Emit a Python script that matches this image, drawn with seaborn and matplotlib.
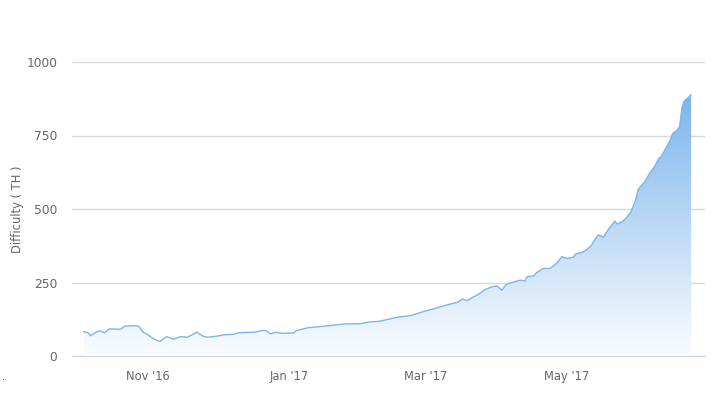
import numpy as np
import pandas as pd
import seaborn as sns
import matplotlib.pyplot as plt
import matplotlib.dates as mdates
from matplotlib.colors import LinearSegmentedColormap

# valores (dificultad en TH)
fechas = ["2016-10-04", "2016-10-06", "2016-10-07", "2016-10-09", "2016-10-11", "2016-10-13",
          "2016-10-15", "2016-10-20", "2016-10-22", "2016-10-27", "2016-10-28", "2016-10-30",
          "2016-10-31", "2016-11-03", "2016-11-06", "2016-11-09", "2016-11-12", "2016-11-15",
          "2016-11-18", "2016-11-22", "2016-11-25", "2016-11-27", "2016-12-01", "2016-12-04",
          "2016-12-08", "2016-12-10", "2016-12-17", "2016-12-21", "2016-12-22", "2016-12-24",
          "2016-12-26", "2016-12-29", "2017-01-03", "2017-01-04", "2017-01-09", "2017-01-18",
          "2017-01-25", "2017-02-01", "2017-02-05", "2017-02-09", "2017-02-13", "2017-02-17",
          "2017-02-23", "2017-02-28", "2017-03-04", "2017-03-09", "2017-03-15", "2017-03-17",
          "2017-03-19", "2017-03-21", "2017-03-24", "2017-03-27", "2017-03-30", "2017-04-01",
          "2017-04-03", "2017-04-05", "2017-04-08", "2017-04-11", "2017-04-13", "2017-04-14",
          "2017-04-17", "2017-04-18", "2017-04-21", "2017-04-24", "2017-04-27", "2017-04-29",
          "2017-05-01", "2017-05-04", "2017-05-05", "2017-05-08", "2017-05-10", "2017-05-12",
          "2017-05-14", "2017-05-15", "2017-05-17", "2017-05-19", "2017-05-22", "2017-05-23",
          "2017-05-25", "2017-05-27", "2017-05-29", "2017-05-31", "2017-06-01", "2017-06-02",
          "2017-06-04", "2017-06-06", "2017-06-08", "2017-06-10", "2017-06-11", "2017-06-13",
          "2017-06-15", "2017-06-16", "2017-06-18", "2017-06-19", "2017-06-20", "2017-06-21",
          "2017-06-22", "2017-06-24"]
dificultad = [83, 79, 69, 79, 86, 79,
              92, 91, 102, 103, 100, 79,
              77, 60, 49, 66, 57, 66,
              64, 81, 66, 64, 68, 72,
              74, 79, 81, 87, 86, 75,
              81, 77, 79, 86, 96, 103,
              109, 110, 116, 118, 125, 132,
              138, 151, 159, 171, 183, 194,
              188, 198, 210, 227, 236, 238,
              224, 244, 251, 258, 255, 270,
              273, 283, 298, 298, 317, 338,
              332, 336, 347, 353, 363, 378,
              404, 412, 404, 429, 459, 449,
              456, 470, 491, 531, 565, 576,
              593, 621, 642, 672, 678, 706,
              735, 757, 769, 780, 842, 868,
              873, 889]
marcas_x = ["2016-11-01", "2017-01-01", "2017-03-01", "2017-05-01"]
etiquetas_x = ["Nov '16", "Jan '17", "Mar '17", "May '17"]
marcas_y = [0, 250, 500, 750, 1000]

datos = pd.DataFrame({"Fecha": pd.to_datetime(fechas), "Dificultad": dificultad})

sns.set_style("white")
plt.rcParams["font.family"] = ["DejaVu Sans"]

azul = "#7cb5ec"
gris = "#666666"

fig = plt.figure(figsize=(7.12, 4.18), dpi=100)
ax = fig.add_axes([72 / 712, 62 / 418, 633 / 712, 294 / 418])

# relleno con degradado (casi blanco abajo, azul arriba)
x = mdates.date2num(datos["Fecha"])
y = datos["Dificultad"].values
poly = ax.fill_between(x, 0, y, color="none", lw=0)
cmap = LinearSegmentedColormap.from_list("deg", ["#fbfdff", azul])
grad = np.linspace(0, 1, 256).reshape(-1, 1)
img = ax.imshow(grad, cmap=cmap, aspect="auto", origin="lower",
                extent=[x.min(), x.max(), 0, y.max()], zorder=1)
img.set_clip_path(poly.get_paths()[0], transform=ax.transData)

sns.lineplot(data=datos, x="Fecha", y="Dificultad", color=azul, lw=1, ax=ax, zorder=3)

ax.set_xlim(pd.Timestamp("2016-09-29"), pd.Timestamp("2017-06-30"))
ax.set_ylim(0, 1000)
ax.set_yticks(marcas_y)
ax.set_yticklabels([str(v) for v in marcas_y])
ax.set_xticks(pd.to_datetime(marcas_x))
ax.set_xticklabels(etiquetas_x)

ax.grid(axis="y", color="#d8d8d8", lw=1)
ax.grid(axis="x", visible=False)
for lado in ["top", "right", "left"]:
  ax.spines[lado].set_visible(False)
ax.spines["bottom"].set_color("#ccd6eb")
ax.tick_params(axis="x", length=9, width=1, color="#ccd6eb", labelsize=8.3, pad=1, labelcolor=gris)
ax.tick_params(axis="y", length=0, labelsize=8.8, labelcolor=gris, pad=10.5)
ax.set_xlabel("")
ax.set_ylabel("Difficulty ( TH )", color=gris, fontsize=8.3)
ax.yaxis.set_label_coords(-0.076, 0.5)

fig.text(2 / 712, 1 - 380 / 418, ".", fontsize=7, color="#333333")

fig.savefig("out.png", dpi=100)
